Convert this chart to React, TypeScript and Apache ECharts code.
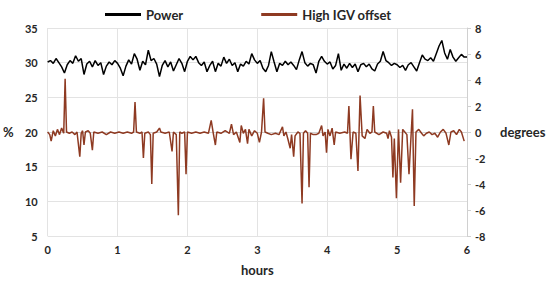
import React, { useEffect, useRef } from "react";
import * as echarts from "echarts";

// Power (%), sampled every 0.04 h from 0 to 6 h
const powerStep = 0.04;
const powerValues = [
  30.1, 30.3, 29.9, 30.6, 30.0, 29.4, 28.5, 29.7, 30.3, 29.9,
  31.0, 30.2, 30.6, 28.3, 29.8, 30.2, 29.4, 30.3, 29.6, 30.0,
  28.3, 29.5, 30.1, 29.7, 30.3, 29.9, 29.2, 28.1, 29.5, 30.4,
  29.8, 31.3, 30.5, 28.9, 30.2, 29.7, 31.8, 30.3, 30.6, 29.8,
  28.0, 29.6, 30.3, 29.4, 30.1, 28.8, 29.7, 30.6, 29.9, 28.7,
  30.2, 30.9, 30.4, 30.9, 30.0, 29.6, 30.1, 28.7, 29.6, 30.2,
  28.7, 29.9, 29.5, 30.8, 29.9, 30.5, 29.6, 30.0, 28.7, 29.8,
  29.5, 30.2, 29.8, 31.3, 30.4, 29.9, 30.3, 29.2, 28.7, 29.6,
  31.6, 30.1, 28.7, 29.9, 29.6, 30.2, 29.7, 30.1, 29.6, 29.0,
  30.4, 31.6, 30.0, 29.5, 29.9, 29.7, 28.5, 30.2, 30.9, 30.2,
  29.8, 30.1, 29.1, 29.6, 31.3, 28.9, 29.8, 29.2, 29.9, 29.3,
  29.8, 28.7, 29.7, 29.9, 29.4, 29.8, 29.1, 28.8, 29.8, 30.2,
  31.6, 30.3, 30.0, 29.6, 29.9, 29.7, 29.3, 29.6, 28.9, 29.7,
  30.0, 29.4, 28.8, 30.0, 31.1, 30.5, 30.3, 30.7, 30.2, 31.3,
  32.4, 33.2, 31.4, 30.5, 31.9, 30.8, 30.2, 30.7, 31.2, 30.8,
  30.8,
];

// High IGV offset (degrees): time (h) and value pairs
const igvHours = [
  0.0, 0.03, 0.05, 0.08, 0.11, 0.14, 0.17, 0.2, 0.23, 0.25,
  0.27, 0.31, 0.35, 0.39, 0.42, 0.46, 0.48, 0.5, 0.52, 0.54,
  0.58, 0.61, 0.64, 0.66, 0.72, 0.78, 0.84, 0.9, 0.96, 1.02,
  1.08, 1.14, 1.2, 1.23, 1.25, 1.27, 1.32, 1.35, 1.37, 1.39,
  1.44, 1.47, 1.49, 1.51, 1.56, 1.6, 1.62, 1.68, 1.74, 1.78,
  1.8, 1.84, 1.87, 1.89, 1.92, 1.96, 1.98, 2.0, 2.06, 2.12,
  2.18, 2.24, 2.3, 2.34, 2.37, 2.4, 2.42, 2.48, 2.54, 2.6,
  2.63, 2.66, 2.7, 2.75, 2.77, 2.8, 2.83, 2.86, 2.88, 2.92,
  2.96, 3.0, 3.03, 3.06, 3.09, 3.11, 3.15, 3.2, 3.26, 3.31,
  3.36, 3.38, 3.41, 3.44, 3.47, 3.49, 3.52, 3.54, 3.58, 3.61,
  3.64, 3.66, 3.69, 3.72, 3.74, 3.76, 3.8, 3.84, 3.88, 3.92,
  3.94, 3.97, 3.99, 4.01, 4.04, 4.07, 4.1, 4.12, 4.18, 4.25,
  4.29, 4.31, 4.34, 4.37, 4.41, 4.44, 4.47, 4.5, 4.54, 4.57,
  4.61, 4.64, 4.66, 4.68, 4.74, 4.8, 4.85, 4.87, 4.89, 4.92,
  4.94, 4.96, 4.99, 5.02, 5.05, 5.08, 5.11, 5.14, 5.17, 5.22,
  5.245, 5.27, 5.31, 5.35, 5.38, 5.42, 5.46, 5.5, 5.54, 5.58,
  5.62, 5.66, 5.7, 5.74, 5.77, 5.81, 5.85, 5.89, 5.92, 5.96,
];
const igvValues = [
  0.0, -0.2, -0.7, 0.1, -0.3, 0.2, -0.2, 0.3, -0.1, 4.1,
  0.0, -0.1, 0.0, -0.2, 0.0, -1.9, -0.1, 0.1, -1.0, 0.0,
  0.1, -0.1, -1.4, 0.0, -0.1, 0.0, -0.2, 0.0, -0.1, 0.0,
  -0.1, 0.0, -0.1, 0.0, 2.3, 0.0, -0.1, 0.0, -2.0, -0.1,
  0.0, -0.2, -4.0, -0.1, 0.0, 0.3, 0.0, -0.1, 0.0, -1.5,
  0.0, -0.2, -6.4, 0.0, -0.1, 0.0, -3.25, 0.0, -0.1, 0.0,
  -0.1, 0.0, -0.1, 0.9, -0.1, -1.0, 0.0, -0.1, 0.1, -0.1,
  0.6, -0.2, 0.0, -0.8, 0.5, -0.1, 0.2, -0.9, 0.2, -0.3,
  0.1, -0.1, -0.8, 0.0, 2.6, 0.0, -0.1, -0.2, -0.1, -0.2,
  0.4, -0.3, 0.0, -0.6, -1.25, -0.2, -1.9, -0.3, 0.0, -0.1,
  -5.5, -0.1, 0.1, -0.1, -4.25, -0.1, -0.2, -0.2, -0.1, 0.5,
  -0.3, 0.0, -1.6, 0.2, -0.3, 0.3, -1.0, 0.0, -0.1, 0.0,
  -0.1, 2.0, -2.1, 0.0, -0.1, -3.0, 2.8, -0.3, -0.5, 0.2,
  -0.1, 0.0, 2.0, 0.0, -0.2, 0.0, -0.1, -0.5, 0.1, -0.4,
  -3.5, -0.5, -5.1, 0.2, -3.9, 0.2, 0.0, -0.2, -3.25, 1.75,
  -5.7, 0.0, 0.2, -0.1, -0.3, -0.1, 0.0, -0.2, -0.1, -0.4,
  0.0, 0.2, -0.1, -1.0, 0.0, 0.1, -0.2, 0.2, 0.0, -0.7,
];

const seriesNames = ["Power", "High IGV offset"];
const leftTicks = { min: 5, max: 35, interval: 5 };
const rightTicks = { min: -8, max: 8, interval: 2 };
const hourTicks = { min: 0, max: 6, interval: 1 };

const FONT = "Lato, 'Open Sans', sans-serif";
const TXT = "#262626";
const IGV_COLOR = "#8e3a22";

export default function App() {
  const ref = useRef<HTMLDivElement>(null);
  useEffect(() => {
    if (!ref.current) return;
    const chart = echarts.init(ref.current, undefined, { renderer: "svg" });
    const powerData = powerValues.map((v, i) => [+(i * powerStep).toFixed(2), v]);
    const igvData = igvHours.map((h, i) => [h, igvValues[i]]);
    chart.setOption({
      animation: false,
      backgroundColor: "#ffffff",
      textStyle: { fontFamily: FONT },
      legend: {
        top: 3,
        left: 100,
        itemGap: 78,
        itemWidth: 36,
        itemHeight: 3,
        icon: "rect",
        textStyle: { fontFamily: FONT, fontWeight: "bold", fontSize: 13, color: TXT },
        data: [
          { name: seriesNames[0], itemStyle: { color: "#000000" } },
          { name: seriesNames[1], itemStyle: { color: IGV_COLOR } },
        ],
      },
      grid: { left: 45, right: 83, top: 28, bottom: 41, containLabel: false },
      xAxis: {
        type: "value",
        ...hourTicks,
        name: "hours",
        nameLocation: "middle",
        nameGap: 27,
        nameTextStyle: { fontFamily: FONT, fontWeight: "bold", fontSize: 13, color: TXT },
        axisLine: { show: true, lineStyle: { color: "#d0d0d0" } },
        axisTick: { show: false },
        axisLabel: { fontFamily: FONT, fontWeight: "bold", fontSize: 11, color: TXT, margin: 8 },
        splitLine: { show: true, lineStyle: { color: "#e3e3e3", width: 1 } },
      },
      yAxis: [
        {
          type: "value",
          ...leftTicks,
          position: "left",
          name: "%",
          nameLocation: "middle",
          nameRotate: 0,
          nameGap: 34,
          nameTextStyle: { fontFamily: FONT, fontWeight: "bold", fontSize: 13, color: TXT },
          axisLine: { show: false },
          axisTick: { show: false },
          axisLabel: { fontFamily: FONT, fontWeight: "bold", fontSize: 11, color: TXT, margin: 10 },
          splitLine: { show: true, lineStyle: { color: "#e3e3e3", width: 1 } },
        },
        {
          type: "value",
          ...rightTicks,
          position: "right",
          name: "degrees",
          nameLocation: "middle",
          nameRotate: 0,
          nameGap: 33,
          nameTextStyle: { fontFamily: FONT, fontWeight: "bold", fontSize: 13, color: TXT, align: "left" },
          axisLine: { show: true, lineStyle: { color: "#d0d0d0" } },
          axisTick: { show: true, length: 4, lineStyle: { color: "#d0d0d0" } },
          axisLabel: { fontFamily: FONT, fontWeight: "bold", fontSize: 11, color: TXT, margin: 8 },
          splitLine: { show: false },
        },
      ],
      series: [
        {
          name: seriesNames[0],
          type: "line",
          yAxisIndex: 0,
          data: powerData,
          symbol: "none",
          lineStyle: { color: "#000000", width: 1.5 },
          itemStyle: { color: "#000000" },
          z: 3,
        },
        {
          name: seriesNames[1],
          type: "line",
          yAxisIndex: 1,
          data: igvData,
          symbol: "none",
          lineStyle: { color: IGV_COLOR, width: 1.5 },
          itemStyle: { color: IGV_COLOR },
          z: 2,
        },
      ],
    });
    return () => chart.dispose();
  }, []);
  return <div ref={ref} style={{ width: 550, height: 281, position: "absolute", left: 0, top: 0 }} />;
}
